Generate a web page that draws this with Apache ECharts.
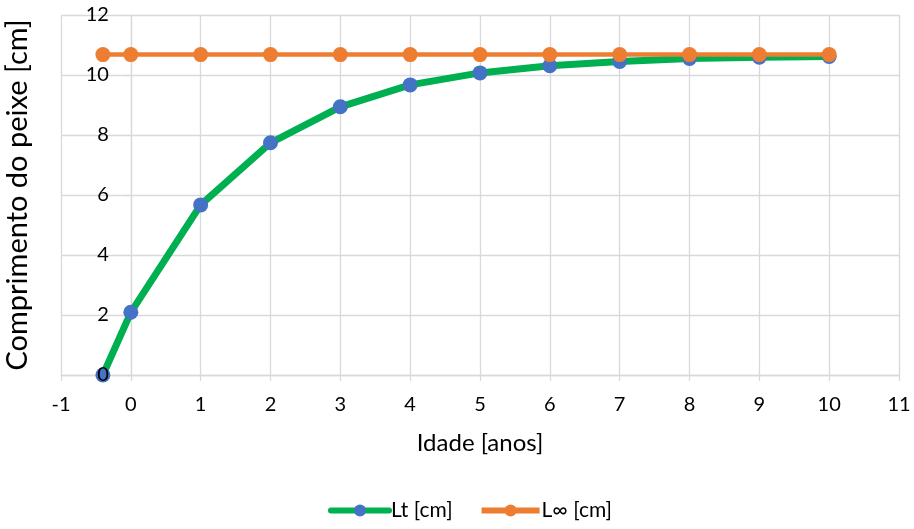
<!DOCTYPE html>
<html>
<head>
<meta charset="utf-8">
<script src="https://cdn.jsdelivr.net/npm/echarts@6/dist/echarts.min.js"></script>
<style>
  html, body { margin: 0; padding: 0; background: #fff; }
  #chart { width: 914px; height: 529px; }
</style>
</head>
<body>
<div id="chart"></div>
<script>
// Fish length at age (von Bertalanffy growth)
const ages = [-0.4, 0, 1, 2, 3, 4, 5, 6, 7, 8, 9, 10];
const ltValues = [0, 2.09, 5.67, 7.74, 8.94, 9.67, 10.07, 10.31, 10.45, 10.55, 10.59, 10.62];
const lInfValues = [10.68, 10.68, 10.68, 10.68, 10.68, 10.68, 10.68, 10.68, 10.68, 10.68, 10.68, 10.68];
const seriesNames = ['Lt [cm]', 'L\u221e [cm]'];
const xAxisTitle = 'Idade [anos]';
const yAxisTitle = 'Comprimento do peixe [cm]';

const xMin = -1, xMax = 11;
const yMin = 0, yMax = 12;
const font = 'Lato, "Open Sans", sans-serif';
const gridColor = '#d9d9d9';
const gridLeft = 61, gridRight = 15;
const chartWidth = 914;

// the value axis crosses the age axis at age 0
const yAxisShift = -(0 - xMin) * (chartWidth - gridLeft - gridRight) / (xMax - xMin);

const pairs = (xs, ys) => xs.map((x, i) => [x, ys[i]]);

const chart = echarts.init(document.getElementById('chart'));
chart.setOption({
  animation: false,
  backgroundColor: '#ffffff',
  textStyle: { fontFamily: font },
  grid: { left: gridLeft, right: gridRight, top: 15, bottom: 154, containLabel: false, outerBoundsMode: 'none' },
  xAxis: {
    type: 'value',
    min: xMin, max: xMax, interval: 1,
    name: xAxisTitle,
    nameLocation: 'middle',
    nameGap: 56,
    nameMoveOverlap: false,
    nameTextStyle: { fontSize: 24, color: '#000', fontFamily: font },
    axisLine: { onZero: false, lineStyle: { color: gridColor, width: 1.3 } },
    axisTick: { show: true, length: 6, lineStyle: { color: gridColor, width: 1.3 } },
    axisLabel: { fontSize: 20, color: '#000', margin: 20, fontFamily: font },
    splitLine: { show: true, lineStyle: { color: gridColor, width: 1.3 } }
  },
  yAxis: [
    {
      // axis line, ticks, gridlines and title (below the series)
      type: 'value',
      min: yMin, max: yMax, interval: 2,
      offset: yAxisShift,
      name: yAxisTitle,
      nameLocation: 'middle',
      nameRotate: 90,
      nameGap: 99,
      nameMoveOverlap: false,
      nameTextStyle: { fontSize: 29, color: '#000', fontFamily: font },
      axisLine: { show: true, onZero: false, lineStyle: { color: gridColor, width: 1.3 } },
      axisTick: { show: true, length: 6, lineStyle: { color: gridColor, width: 1.3 } },
      axisLabel: { show: false },
      splitLine: { show: true, lineStyle: { color: gridColor, width: 1.3 } }
    },
    {
      // tick labels, drawn above the series
      type: 'value',
      position: 'left',
      min: yMin, max: yMax, interval: 2,
      offset: yAxisShift,
      z: 10,
      axisLine: { show: false, onZero: false },
      axisTick: { show: false },
      axisLabel: { fontSize: 20, color: '#000', margin: 22, fontFamily: font },
      splitLine: { show: false }
    }
  ],
  legend: {
    bottom: 3,
    left: 323,
    itemWidth: 58,
    itemHeight: 15,
    itemGap: 26,
    lineStyle: { width: 6 },
    textStyle: { fontSize: 21, color: '#000', fontFamily: font, padding: [0, 0, 0, -3] },
    data: seriesNames
  },
  series: [
    {
      name: seriesNames[0],
      type: 'line',
      data: pairs(ages, ltValues),
      smooth: false,
      symbol: 'circle',
      symbolSize: 15,
      lineStyle: { color: '#00b050', width: 7, join: 'round', cap: 'round' },
      itemStyle: { color: '#4472c4', borderWidth: 0 },
      z: 2
    },
    {
      name: seriesNames[1],
      type: 'line',
      data: pairs(ages, lInfValues),
      symbol: 'circle',
      symbolSize: 15,
      lineStyle: { color: '#ed7d31', width: 4.5 },
      itemStyle: { color: '#ed7d31', borderWidth: 0 },
      z: 3
    }
  ]
});
</script>
</body>
</html>
